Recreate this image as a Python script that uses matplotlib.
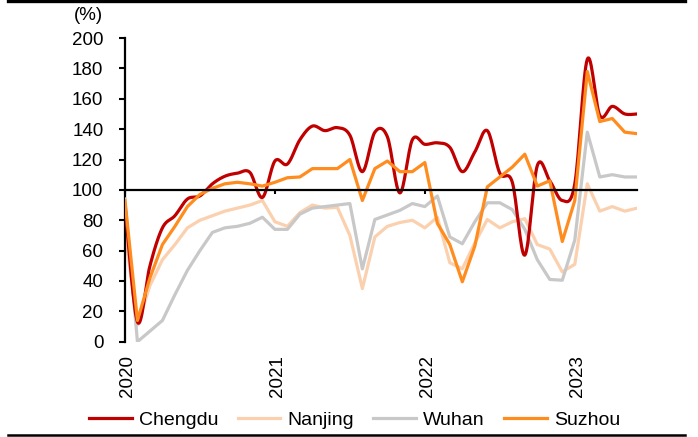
import numpy as np
import matplotlib
matplotlib.use("Agg")
import matplotlib.pyplot as plt
from matplotlib.lines import Line2D

plt.rcParams["font.family"] = ["Liberation Sans", "DejaVu Sans"]

# Monthly index, Jan 2020 - Jun 2023
year_labels = ["2020", "2021", "2022", "2023"]
year_ticks = [0, 12, 24, 36]

chengdu = [90, 13, 50, 75, 83, 94, 96, 104, 109, 111, 111.5, 95,
           119, 117, 133, 142, 139, 141, 136, 112, 138, 135, 98, 133,
           130, 131, 128, 112, 125, 139, 111, 105, 57, 116, 106, 93,
           104, 186, 149, 155, 150, 150]
nanjing = [73, 11, 37, 54, 64, 75, 80, 83, 86, 88, 90, 93,
           79, 76, 85, 90, 88, 88.5, 70, 35, 69, 76, 78.5, 80,
           75, 82, 52, 48, 65, 80.5, 75, 79, 81, 64, 61, 46,
           51, 104, 86, 89, 86, 88]
wuhan = [94, 0, 7, 14, 31, 47, 60, 72, 75, 76, 78, 82,
         74, 74, 84, 88, 89, 90, 91, 48, 80.5, 83.5, 86.5, 91,
         89, 96, 69, 64.5, 79, 91.5, 91.5, 87, 74, 54, 41, 40.5,
         67, 138, 108.5, 110, 108.5, 108.5]
suzhou = [93, 14, 42, 64, 76, 89, 97, 101, 104, 105, 104, 102.5,
          105, 108, 108.5, 114, 114, 114, 120, 93, 114, 119, 112, 112,
          118, 78, 64, 39.5, 63, 102, 108.5, 115, 123.5, 102.5, 106, 66,
          93, 178, 145, 147, 138, 137]

series_names = ["Chengdu", "Nanjing", "Wuhan", "Suzhou"]
colors = {"Chengdu": "#C00000", "Nanjing": "#FBD0AE",
          "Wuhan": "#C8C8C8", "Suzhou": "#FF8C1E"}


def smooth(x, y, n=16):
    """Catmull-Rom style Bezier smoothing through every point."""
    x = np.asarray(x, float)
    y = np.asarray(y, float)
    px = np.concatenate([[x[0]], x, [x[-1]]])
    py = np.concatenate([[y[0]], y, [y[-1]]])
    t = np.linspace(0, 1, n, endpoint=False)[:, None]
    xs, ys = [], []
    for i in range(1, len(px) - 2):
        p0 = np.array([px[i], py[i]])
        p3 = np.array([px[i + 1], py[i + 1]])
        c1 = p0 + (np.array([px[i + 1], py[i + 1]]) - np.array([px[i - 1], py[i - 1]])) / 6
        c2 = p3 - (np.array([px[i + 2], py[i + 2]]) - np.array([px[i], py[i]])) / 6
        pts = ((1 - t) ** 3) * p0 + 3 * ((1 - t) ** 2) * t * c1 + 3 * (1 - t) * t ** 2 * c2 + t ** 3 * p3
        xs.append(pts[:, 0])
        ys.append(pts[:, 1])
    xs.append([x[-1]])
    ys.append([y[-1]])
    return np.concatenate(xs), np.concatenate(ys)


fig = plt.figure(figsize=(6.98, 4.37), dpi=100)
ax = fig.add_axes([0.179, 0.218, 0.734, 0.695])

x = np.arange(len(chengdu))
lw = 2.3
ax.plot(x, nanjing, color=colors["Nanjing"], lw=lw, label="Nanjing", zorder=2)
ax.plot(x, wuhan, color=colors["Wuhan"], lw=lw, label="Wuhan", zorder=3)
sx, sy = smooth(x, chengdu)
ax.plot(sx, sy, color=colors["Chengdu"], lw=lw, label="Chengdu", zorder=4)
ax.plot(x, suzhou, color=colors["Suzhou"], lw=lw, label="Suzhou", zorder=5)

ax.set_xlim(0, len(chengdu) - 1)
ax.set_ylim(0, 200)
ax.set_yticks(np.arange(0, 201, 20))
ax.tick_params(axis="y", direction="out", length=4.5, width=1.5,
               labelsize=13.5, pad=11)

for side in ("top", "right"):
    ax.spines[side].set_visible(False)
ax.spines["left"].set_linewidth(1.6)
ax.spines["bottom"].set_position(("data", 100))
ax.spines["bottom"].set_linewidth(1.6)
ax.spines["bottom"].set_zorder(6)
ax.set_xticks(year_ticks)
ax.tick_params(axis="x", direction="out", length=3, width=1.5,
               labelbottom=False)

for pos, lab in zip(year_ticks, year_labels):
    ax.text(pos + 0.2, -0.045, lab, transform=ax.get_xaxis_transform(),
            rotation=90, ha="center", va="top", fontsize=13.5)

fig.text(0.126, 0.964, "(%)", ha="center", va="center", fontsize=13.5)

handles, labels = ax.get_legend_handles_labels()
order = [labels.index(n) for n in series_names]
fig.legend([handles[i] for i in order], [labels[i] for i in order],
           loc="center", bbox_to_anchor=(0.508, 0.039), ncol=4,
           frameon=False, fontsize=14, handlelength=2.2,
           handletextpad=0.36, columnspacing=1.0)

fig.add_artist(Line2D([0.011, 0.981], [0.997, 0.997], color="black",
                      lw=2.4, transform=fig.transFigure))
fig.add_artist(Line2D([0.011, 0.981], [0.005, 0.005], color="black",
                      lw=1.8, transform=fig.transFigure))

fig.savefig("out.png", dpi=100)
